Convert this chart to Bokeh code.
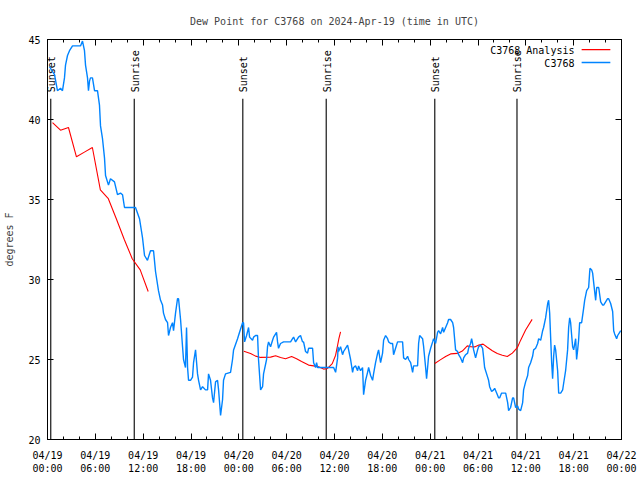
import math
from bokeh.plotting import figure
from bokeh.models import Range1d, LinearAxis, FixedTicker
from bokeh.embed import file_html
from bokeh.resources import INLINE
from bokeh.core.properties import value

nan = float("nan")
FONT = "DejaVu Sans Mono"

# ---- data (hours since 2024-04-19 00:00 UTC, dew point in degrees F) ----
obs_hours = [
    0.25, 0.63, 0.88, 1.25, 1.63, 1.88, 2.13, 2.26, 2.51, 2.76,
    3.14, 4.14, 4.39, 4.64, 4.77, 5.02, 5.14, 5.27, 5.39, 5.64,
    5.90, 6.27, 6.52, 6.65, 6.90, 7.15, 7.28, 7.65, 7.90, 8.40,
    8.78, 9.16, 9.41, 9.66, 11.04, 11.54, 11.92, 12.17, 12.54, 12.92,
    13.30, 13.55, 13.92,
    14.18, 14.43, 14.55, 14.80, 15.06, 15.18, 15.43, 15.68, 15.81, 16.06,
    16.31, 16.44, 16.69, 16.94, 17.06, 17.31, 17.44, 17.57, 17.69, 17.94,
    18.19, 18.32, 18.57, 18.82, 18.95, 19.20, 19.45, 19.82, 20.08, 20.20,
    20.45, 20.70, 20.83, 21.08, 21.33, 21.46, 21.71, 21.96, 22.08, 22.33,
    22.96, 23.21, 23.34, 23.84, 24.09, 24.47, 24.59, 24.72, 24.97, 25.22,
    25.35, 25.72, 25.85, 26.10, 26.35, 26.47, 26.73, 26.98, 27.10, 27.48,
    27.60, 27.73, 27.98, 28.23, 28.36, 28.73, 28.86, 28.98,
    29.23, 29.61, 30.49, 30.74, 30.87, 31.12, 31.49, 31.74, 31.99, 32.12,
    32.37, 32.62, 32.75, 33.25, 33.38, 33.63, 33.75, 33.88, 34.25, 35.89,
    36.14, 36.39, 36.45, 36.51, 36.76, 37.01, 37.14, 37.39, 37.64, 37.77,
    38.02, 38.27, 38.39, 38.64, 38.90, 39.02, 39.27, 39.52, 39.65, 39.90,
    40.15, 40.28, 40.53, 40.78, 40.90, 41.15, 41.41, 41.53, 41.78, 42.03,
    42.16, 42.41, 42.66, 42.79, 43.04, 43.29, 43.41, 43.66, 43.91, 44.54,
    44.67, 44.92, 45.17, 45.30, 45.55, 45.80, 45.92, 46.42, 46.55, 46.68,
    47.05, 47.18, 47.43, 47.55, 47.68, 47.80, 48.06, 48.31, 48.43,
    48.68, 48.93, 49.06, 49.31, 49.56, 49.69, 49.94, 50.19, 50.31, 50.56,
    50.82, 50.94, 51.19, 51.44, 51.57, 51.82, 52.07, 52.20, 52.45, 52.70,
    52.82, 53.07, 53.20, 53.32, 53.45, 53.70, 53.95, 54.08, 54.33, 54.58,
    54.71, 54.83, 55.08, 55.33, 55.46, 55.71, 55.96, 56.09, 56.34, 56.59,
    56.71, 56.96, 57.47, 57.72, 57.84, 58.09, 58.34, 58.47, 58.72, 58.97,
    59.10, 59.35, 59.60, 59.72, 59.97, 60.23, 60.35, 60.60, 60.85, 60.98,
    61.23, 61.48, 61.61, 61.86, 62.11, 62.23, 62.48, 62.74, 62.86, 62.99,
    63.11, 63.24, 63.36, 63.49, 63.61, 63.74, 63.99, 64.12, 64.37, 64.62,
    64.74, 64.99, 65.24, 65.37, 65.50, 65.62, 65.75, 65.87, 66.00, 66.25,
    66.37, 66.50, 66.62, 66.75, 67.00, 67.25, 67.38, 67.63, 67.88, 68.00,
    68.05, 68.26, 68.38, 68.51, 68.76, 68.89, 69.14, 69.39, 69.64, 69.76,
    70.01, 70.26, 70.39, 70.64, 70.89, 71.02, 71.14, 71.39, 71.52, 71.77,
    71.90,
]
obs_dewpt = [
    43.3, 43.0, 42.8, 41.8, 41.95, 41.8, 42.6, 43.4, 44.0, 44.3,
    44.6, 44.6, 44.9, 44.3, 43.4, 42.6, 41.8, 42.4, 42.6, 42.6,
    41.8, 41.8, 40.9, 39.6, 38.8, 37.6, 36.5, 35.9, 36.3, 36.1,
    35.3, 35.4, 35.3, 34.5, 34.5, 33.8, 32.6, 31.5, 31.2, 31.8,
    31.8, 30.5, 29.3,
    28.7, 28.4, 27.9, 27.5, 27.3, 26.5, 27.0, 27.3, 26.8, 27.9,
    28.8, 28.8, 27.5, 25.8, 25.0, 24.5, 27.0, 24.5, 23.7, 23.7,
    23.9, 24.8, 25.6, 24.1, 23.7, 23.1, 23.3, 23.1, 23.1, 24.1,
    23.7, 22.6, 22.3, 23.6, 23.7, 23.1, 21.5, 22.5, 23.7, 24.1,
    24.2, 25.0, 25.6, 26.3, 26.7, 27.3, 27.3, 26.1, 26.5, 27.0,
    26.4, 26.2, 26.4, 26.5, 26.5, 25.0, 23.1, 23.3, 24.1, 25.0,
    25.8, 26.1, 25.8, 26.2, 26.4, 26.7, 26.1, 25.7,
    26.0, 26.1, 26.1, 26.3, 26.4, 26.1, 26.4, 26.5, 26.1, 26.1,
    25.5, 25.4, 25.7, 25.7, 24.8, 24.5, 24.8, 24.5, 24.5, 24.5,
    24.2, 25.1, 25.8, 25.5, 25.8, 25.3, 25.5, 25.7, 25.9, 25.6,
    25.0, 24.2, 24.5, 24.6, 24.3, 24.6, 24.3, 24.5, 22.8, 23.7,
    24.2, 24.5, 24.0, 23.7, 24.1, 24.8, 25.4, 25.6, 24.8, 25.4,
    26.2, 26.5, 26.3, 26.1, 26.0, 26.0, 25.3, 25.7, 26.1, 26.1,
    25.1, 25.0, 25.2, 25.0, 24.8, 24.2, 24.6, 24.6, 26.0, 26.5,
    26.3, 25.8, 24.5, 23.8, 24.5, 25.2, 25.7, 26.1, 26.3,
    26.0, 26.7, 26.8, 26.6, 27.0, 26.7, 27.0, 27.3, 27.5, 27.5,
    27.3, 27.0, 25.6, 25.5, 25.3, 25.1, 24.8, 25.1, 25.3, 25.4,
    25.7, 26.0, 26.3, 26.0, 25.6, 25.1, 25.6, 25.8, 25.9, 25.7,
    25.1, 24.5, 24.1, 23.7, 23.3, 23.0, 23.1, 23.2, 22.9, 22.6,
    22.6, 22.9, 22.9, 22.3, 21.8, 22.0, 22.6, 22.6, 22.0, 22.1,
    21.9, 21.8, 22.3, 23.1, 23.6, 24.0, 24.5, 24.8, 25.2, 25.6,
    25.7, 26.0, 26.3, 26.2, 26.8, 27.0, 27.6, 28.5, 28.7, 27.9,
    26.4, 24.8, 23.8, 25.2, 25.9, 25.6, 24.3, 22.9, 22.9, 23.1,
    23.5, 24.3, 25.6, 27.0, 27.6, 27.3, 26.5, 25.8, 25.6, 26.3,
    25.0, 25.6, 26.2, 27.3, 27.3, 28.2, 28.7, 29.3, 29.5, 30.4,
    30.7, 30.6, 30.4, 29.8, 28.7, 29.5, 29.5, 28.6, 28.4, 28.4,
    28.6, 28.8, 28.8, 28.5, 28.0, 26.8, 26.6, 26.3, 26.5, 26.7,
    26.8,
]

analysis_hours = [
    0.63, 1.63, 2.63, 3.63, 4.63, 5.63, 6.63, 7.63, 8.63, 9.63, 10.63, 11.63, 12.63,
    nan,
    24.63, 25.47, 26.10, 26.73, 27.98, 28.61, 29.23, 29.86, 30.62, 31.24,
    31.87, 32.75, 33.38, 34.00, 34.63, 35.13, 35.72, 36.14, 36.35, 36.55, 36.76,
    nan,
    48.58, 49.31, 49.94, 50.56, 51.40, 52.03, 52.66, 53.07, 53.64, 54.11,
    54.64, 55.17, 55.80, 56.42, 57.05, 57.68, 58.31, 58.93, 59.35, 59.97, 60.79,
]
analysis_dewpt = [
    39.8, 39.33, 39.5, 37.67, 37.96, 38.25, 35.6, 35.05, 33.8, 32.5, 31.3, 30.6, 29.25,
    nan,
    25.52, 25.38, 25.21, 25.13, 25.15, 25.24, 25.12, 25.05, 25.19, 25.05,
    24.87, 24.65, 24.6, 24.54, 24.4, 24.44, 24.74, 25.27, 25.79, 26.3, 26.73,
    nan,
    24.75, 24.99, 25.19, 25.35, 25.38, 25.53, 25.85, 25.8, 25.79, 25.9,
    25.96, 25.77, 25.55, 25.38, 25.27, 25.19, 25.4, 25.74, 26.21, 26.84, 27.51,
]

sun_hours = [0.41, 10.88, 24.50, 34.96, 48.58, 58.89]
sun_labels = ["Sunset", "Sunrise", "Sunset", "Sunrise", "Sunset", "Sunrise"]

x_ticks = [0, 6, 12, 18, 24, 30, 36, 42, 48, 54, 60, 66, 72]
x_minor = list(range(0, 73, 2))
x_labels = ["04/19\n00:00", "04/19\n06:00", "04/19\n12:00", "04/19\n18:00",
            "04/20\n00:00", "04/20\n06:00", "04/20\n12:00", "04/20\n18:00",
            "04/21\n00:00", "04/21\n06:00", "04/21\n12:00", "04/21\n18:00",
            "04/22\n00:00"]
y_ticks = [20, 25, 30, 35, 40, 45]

series_names = ["C3768 Analysis", "C3768"]
series_colors = ["#ff0000", "#0084ff"]

# ---- figure ----
p = figure(width=640, height=480, output_backend="svg", toolbar_location=None,
           x_range=Range1d(0, 72), y_range=Range1d(20, 45),
           x_axis_type=None, y_axis_type=None,
           min_border_left=47, min_border_right=19, min_border_top=39, min_border_bottom=41)
p.grid.visible = False
p.outline_line_color = "black"
p.background_fill_color = "white"
p.border_fill_color = "white"

p.title.text = "Dew Point for C3768 on 2024-Apr-19 (time in UTC)"
p.title.align = "center"
p.title.text_font = FONT
p.title.text_font_size = "10px"
p.title.text_font_style = "normal"
p.title.standoff = 25

xt = FixedTicker(ticks=x_ticks, minor_ticks=x_minor)
yt = FixedTicker(ticks=y_ticks, minor_ticks=[])


def style(ax, show_labels):
    ax.axis_line_color = "black"
    ax.major_tick_in = 6
    ax.major_tick_out = 0
    ax.minor_tick_in = 3
    ax.minor_tick_out = 0
    ax.major_tick_line_color = "black"
    ax.minor_tick_line_color = "black"
    ax.major_label_text_font = FONT
    if show_labels:
        ax.major_label_text_font_size = "10px"
        ax.major_label_text_color = "black"
    else:
        ax.major_label_text_font_size = "0px"
        ax.major_label_text_color = None
        ax.major_label_standoff = 0


bottom = LinearAxis(ticker=xt)
style(bottom, True)
bottom.major_label_overrides = {t: lab for t, lab in zip(x_ticks, x_labels)}
bottom.major_label_standoff = 10
p.add_layout(bottom, "below")

top = LinearAxis(ticker=xt)
style(top, False)
p.add_layout(top, "above")

left = LinearAxis(ticker=yt, axis_label="degrees F")
style(left, True)
left.major_label_standoff = 7
left.axis_label_text_font = FONT
left.axis_label_text_font_size = "10px"
left.axis_label_text_font_style = "normal"
left.axis_label_standoff = 10
p.add_layout(left, "left")

right = LinearAxis(ticker=yt)
style(right, False)
p.add_layout(right, "right")

# sunrise / sunset markers
p.segment(x0=sun_hours, y0=[20] * len(sun_hours), x1=sun_hours, y1=[41.3] * len(sun_hours),
          line_color="black", line_width=1.1)
p.text(x=sun_hours, y=[41.7] * len(sun_hours), text=sun_labels, angle=math.pi / 2,
       text_align="left", text_baseline="middle", x_offset=1,
       text_font=value(FONT), text_font_size="10px", text_color="black")

# series
p.line(analysis_hours, analysis_dewpt, line_color=series_colors[0], line_width=1.1)
p.line(obs_hours, obs_dewpt, line_color=series_colors[1], line_width=1.4)

# legend (label right-aligned, sample line on the right, gnuplot style)
p.text(x=[66.1, 66.1], y=[44.29, 43.5], text=series_names,
       text_align="right", text_baseline="middle",
       text_font=value(FONT), text_font_size="10px", text_color="black")
p.segment(x0=[67.0, 67.0], y0=[44.37, 43.56], x1=[70.6, 70.6], y1=[44.37, 43.56],
          line_color=series_colors, line_width=[1.1, 1.4])

open("out.html", "w").write(file_html(p, INLINE))
